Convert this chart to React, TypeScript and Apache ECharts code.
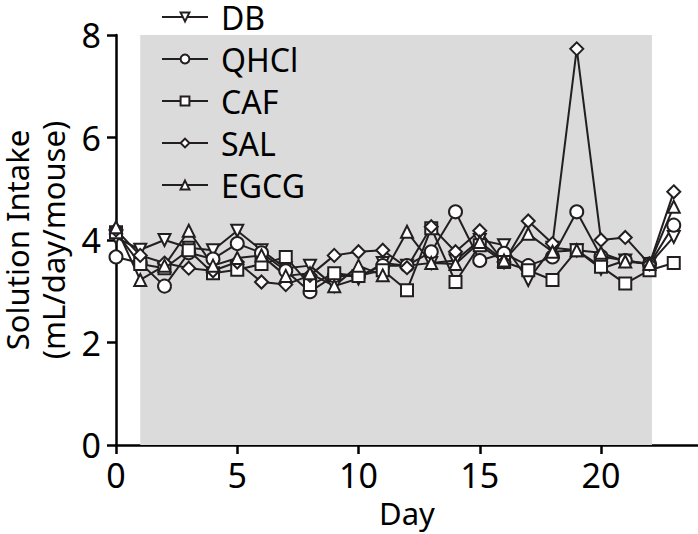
import React, { useEffect, useRef } from "react";
import * as echarts from "echarts";

const days = [0, 1, 2, 3, 4, 5, 6, 7, 8, 9, 10, 11, 12, 13, 14, 15, 16, 17, 18, 19, 20, 21, 22, 23];
const dbValues = [4.05, 3.81, 4.0, 3.85, 3.8, 4.18, 3.8, 3.45, 3.5, 3.1, 3.25, 3.55, 3.5, 3.55, 3.6, 4.0, 3.9, 3.22, 3.85, 3.8, 3.44, 3.6, 3.53, 4.06];
const qhclValues = [3.67, 3.55, 3.1, 3.75, 3.63, 3.93, 3.75, 3.4, 2.99, 3.3, 3.3, 3.5, 3.5, 3.77, 4.55, 3.6, 3.74, 3.5, 3.67, 4.55, 3.68, 3.6, 3.53, 4.29];
const cafValues = [4.15, 3.53, 3.45, 3.8, 3.35, 3.42, 3.53, 3.67, 3.12, 3.35, 3.3, 3.41, 3.02, 4.23, 3.18, 3.9, 3.57, 3.41, 3.22, 3.8, 3.48, 3.15, 3.41, 3.55];
const salValues = [4.2, 3.7, 3.55, 3.45, 3.4, 3.57, 3.18, 3.13, 3.31, 3.7, 3.77, 3.8, 3.46, 4.26, 3.77, 4.18, 3.57, 4.37, 3.93, 7.73, 4.0, 4.05, 3.53, 4.94];
const egcgValues = [4.25, 3.22, 3.5, 4.18, 3.5, 3.65, 3.7, 3.3, 3.35, 3.1, 3.5, 3.31, 4.16, 3.55, 3.53, 3.96, 3.6, 4.12, 3.77, 3.8, 3.75, 3.58, 3.53, 4.65];
const shadedRange = [1, 22.1];
const seriesNames = ["DB", "QHCl", "CAF", "SAL", "EGCG"];

const INK = "#231f20";
const FONT = "Noto Sans";

export default function App() {
  const ref = useRef<HTMLDivElement>(null);
  useEffect(() => {
    if (!ref.current) return;
    const chart = echarts.init(ref.current, undefined, { renderer: "svg" });
    const mk = (name: string, vals: number[], symbol: string, size: number, rotate = 0, extra: any = {}) => ({
      name,
      type: "line",
      data: days.map((d, i) => [d, vals[i]]),
      symbol,
      symbolSize: size,
      symbolRotate: rotate,
      showAllSymbol: true,
      lineStyle: { color: INK, width: 2 },
      itemStyle: { color: "#ffffff", borderColor: INK, borderWidth: 2 },
      emphasis: { disabled: true },
      ...extra,
    });
    chart.setOption({
      animation: false,
      grid: { left: 116, right: 0, top: 35, bottom: 89, containLabel: false, outerBoundsMode: "none" },
      legend: {
        orient: "vertical",
        left: 161,
        top: 1,
        padding: 0,
        itemWidth: 46,
        itemHeight: 11,
        itemGap: 10,
        data: seriesNames,
        textStyle: { fontFamily: FONT, fontSize: 32, color: "#000", lineHeight: 32, padding: [0, 0, 0, 8] },
      },
      xAxis: {
        type: "value",
        min: 0,
        max: 24,
        interval: 5,
        name: "Day",
        nameLocation: "middle",
        nameGap: 52,
        nameTextStyle: { fontFamily: FONT, fontSize: 31, color: "#000" },
        axisLine: { lineStyle: { color: "#000", width: 2.5 } },
        axisTick: { length: 9, lineStyle: { color: "#000", width: 2.5 } },
        axisLabel: { fontFamily: FONT, fontSize: 34, color: "#000", margin: 13, showMaxLabel: false },
        splitLine: { show: false },
      },
      yAxis: {
        type: "value",
        min: 0,
        max: 8,
        interval: 2,
        name: "Solution Intake\n(mL/day/mouse)",
        nameLocation: "middle",
        nameGap: 45,
        nameRotate: 90,
        nameTextStyle: { fontFamily: FONT, fontSize: 31, color: "#000", lineHeight: 36 },
        axisLine: { lineStyle: { color: "#000", width: 2.5 } },
        axisTick: { length: 9, lineStyle: { color: "#000", width: 2.5 } },
        axisLabel: { fontFamily: FONT, fontSize: 34, color: "#000", margin: 15 },
        splitLine: { show: false },
      },
      series: [
        mk("DB", dbValues, "triangle", 12, 180, {
          markArea: {
            silent: true,
            itemStyle: { color: "#dbdbdb" },
            data: [[{ xAxis: shadedRange[0] }, { xAxis: shadedRange[1] }]],
          },
        }),
        mk("QHCl", qhclValues, "circle", 13),
        mk("CAF", cafValues, "rect", 12),
        mk("SAL", salValues, "diamond", 13),
        mk("EGCG", egcgValues, "triangle", 12),
      ],
    });
    return () => chart.dispose();
  }, []);
  return <div ref={ref} style={{ width: 698, height: 534, position: "absolute", left: 0, top: 0 }} />;
}
